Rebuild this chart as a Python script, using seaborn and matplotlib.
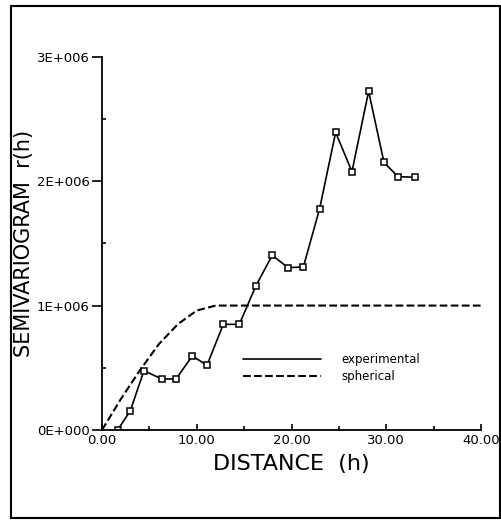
import numpy
import pandas
import seaborn
from matplotlib import pyplot
from matplotlib.patches import Rectangle
from matplotlib.ticker import FixedLocator

# experimental semivariogram (lag distance, gamma)
distance = [1.65, 2.99, 4.43, 6.30, 7.81, 9.53, 11.08, 12.80, 14.49, 16.25,
            17.97, 19.63, 21.25, 22.97, 24.66, 26.38, 28.14, 29.76, 31.23, 33.06]
semivariogram = [0.0, 0.155e6, 0.477e6, 0.41e6, 0.41e6, 0.595e6, 0.52e6, 0.849e6,
                 0.849e6, 1.16e6, 1.404e6, 1.305e6, 1.31e6, 1.779e6, 2.392e6,
                 2.076e6, 2.722e6, 2.151e6, 2.036e6, 2.031e6]

# spherical model
model_distance = [0, 2, 4, 6, 8, 10, 12, 40]
model_gamma = [0.0, 0.25e6, 0.48e6, 0.69e6, 0.85e6, 0.96e6, 1.0e6, 1.0e6]

x_ticks = [0, 10, 20, 30, 40]
x_tick_labels = ['0.00', '10.00', '20.00', '30.00', '40.00']
y_ticks = [0, 1e6, 2e6, 3e6]
y_tick_labels = ['0E+000', '1E+006', '2E+006', '3E+006']

experimental = pandas.DataFrame({'distance': distance, 'gamma': semivariogram})
spherical = pandas.DataFrame({'distance': model_distance, 'gamma': model_gamma})

seaborn.set_style('ticks', {'text.color': 'black', 'axes.labelcolor': 'black',
                            'xtick.color': 'black', 'ytick.color': 'black',
                            'axes.edgecolor': 'black'})
pyplot.rcParams['font.family'] = ['DejaVu Sans']

figure = pyplot.figure(figsize=(5.02, 5.30), dpi=100)
axes = figure.add_axes([102 / 502, 1 - 430 / 530, 379 / 502, 373.3 / 530])

seaborn.lineplot(data=experimental, x='distance', y='gamma', ax=axes,
                 color='black', lw=1.2, marker='s', markersize=5,
                 markerfacecolor='white', markeredgecolor='black',
                 markeredgewidth=1.1, label='experimental')
seaborn.lineplot(data=spherical, x='distance', y='gamma', ax=axes,
                 color='black', lw=1.5, dashes=(4, 2.5), linestyle='--',
                 label='spherical')

# axes limits and ticks
axes.set_xlim(0, 40)
axes.set_ylim(0, 3e6)
axes.set_xticks(x_ticks)
axes.set_xticklabels(x_tick_labels, fontsize=9.5)
axes.set_yticks(y_ticks)
axes.set_yticklabels(y_tick_labels, fontsize=9.5)
axes.xaxis.set_minor_locator(FixedLocator([5, 15, 25, 35]))
axes.yaxis.set_minor_locator(FixedLocator([0.5e6, 1.5e6, 2.5e6]))
axes.tick_params(axis='x', which='major', direction='in', length=4,
                 width=1.2, pad=3, bottom=True)
axes.tick_params(axis='x', which='minor', direction='in', length=3,
                 width=1.2, bottom=True)
axes.tick_params(axis='y', which='major', direction='out', length=7,
                 width=1.2, pad=2, left=True)
axes.tick_params(axis='y', which='minor', direction='in', length=3,
                 width=1.2, left=True)

for side in ['top', 'right']:
    axes.spines[side].set_visible(False)
for side in ['left', 'bottom']:
    axes.spines[side].set_linewidth(1.3)
axes.set_facecolor('none')

axes.set_xlabel('DISTANCE  (h)', fontsize=16, labelpad=5)
axes.set_ylabel('SEMIVARIOGRAM  r(h)', fontsize=15, labelpad=2)

# legend without frame
legend = axes.legend(loc='upper left', bbox_to_anchor=(0.372, 0.205),
                     frameon=False, fontsize=8.5, handlelength=6.6,
                     handletextpad=1.7, labelspacing=0.3,
                     borderpad=0, borderaxespad=0)
for line in legend.get_lines():
    line.set_marker('')

# outer frame around the whole picture
figure.patches.append(Rectangle((11 / 502, 1 - 518 / 530), 489 / 502, 512 / 530,
                                transform=figure.transFigure, fill=False,
                                edgecolor='black', lw=1.5))

figure.savefig('out.png', dpi=100)
pyplot.close()
